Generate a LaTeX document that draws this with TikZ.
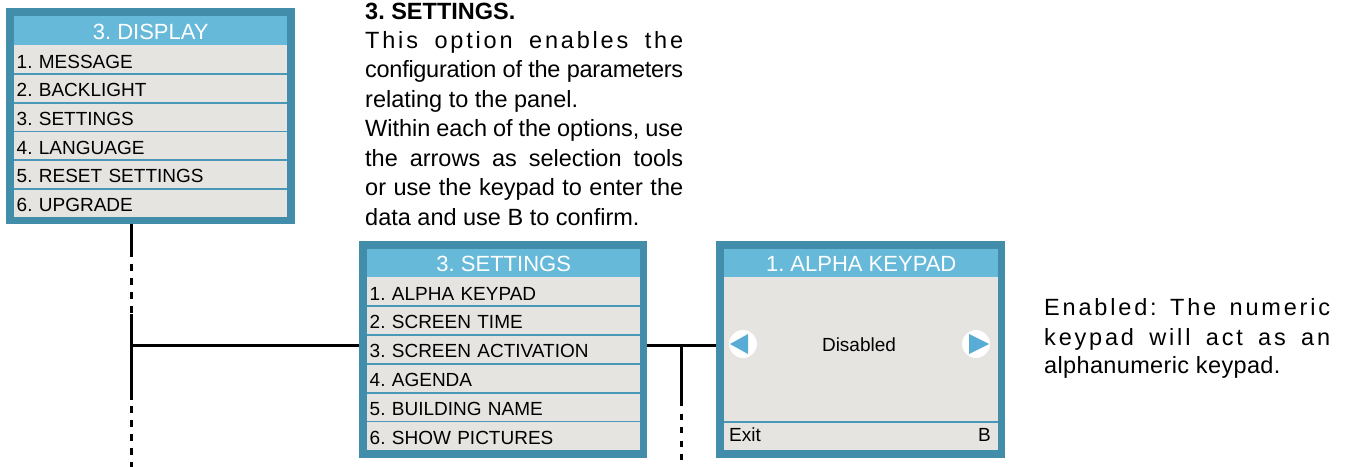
\documentclass[tikz,border=0pt]{standalone}
\usepackage{fontspec}
\setmainfont{Liberation Sans}
\newfontfamily\lsfont[LetterSpace=12]{Liberation Sans}
\newfontfamily\lsfontb[LetterSpace=1.5]{Liberation Sans}
\newfontfamily\lsneg[LetterSpace=-1.2]{Liberation Sans}
\definecolor{framec}{RGB}{65,141,170}
\definecolor{hdrc}{RGB}{102,185,217}
\definecolor{rowc}{RGB}{229,228,225}
\definecolor{sepc}{RGB}{74,152,184}
\definecolor{tric}{RGB}{88,172,213}
\tikzset{
  outerbox/.style={fill=framec, draw=none, inner sep=0pt, anchor=north west},
  hdrbox/.style={fill=hdrc, draw=none, inner sep=0pt, anchor=north west, text=white,
    font=\fontsize{22pt}{25pt}\selectfont, text height=17pt, text depth=0pt},
  rowbox/.style={fill=rowc, draw=none, inner xsep=2.5pt, inner ysep=0pt, anchor=north west,
    font=\fontsize{19pt}{22pt}\selectfont, text height=17pt, text depth=0pt, align=left},
  sepline/.style={draw=sepc, line width=1.6pt},
  conn/.style={draw=black, line width=3pt},
  dconn/.style={draw=black, line width=3pt, dash pattern=on 7pt off 7pt},
  dconnb/.style={draw=black, line width=3pt, dash pattern=on 6pt off 7.5pt},
  bodytxt/.style={inner sep=0pt, anchor=base west, font=\fontsize{23.5pt}{27pt}\selectfont},
  paneltxt/.style={inner sep=0pt, font=\fontsize{19pt}{22pt}\selectfont},
  btn/.style={circle, fill=white, minimum size=28pt, inner sep=0pt},
}
\begin{document}
\frenchspacing
\begin{tikzpicture}[x=1pt,y=-1pt]
\useasboundingbox (0,0) rectangle (1349,466);
% ---------- DISPLAY panel ----------
\node[outerbox, minimum width=289pt, minimum height=216pt] (disp) at (6,8) {};
\node[hdrbox, minimum width=273pt, minimum height=29pt] (dh) at (14,16) {3. DISPLAY};
\foreach \i/\t in {1/1. MESSAGE,2/2. BACKLIGHT,3/3. SETTINGS,4/4. LANGUAGE,5/5. RESET SETTINGS,6/6. UPGRADE}{
  \node[rowbox, minimum height=28.67pt, text width=268pt] (d\i) at (14,{45+(\i-1)*28.67}) {\t};
}
\foreach \i in {1,...,5}{ \draw[sepline] (d\i.south west) -- (d\i.south east); }
% ---------- SETTINGS panel ----------
\node[outerbox, minimum width=288pt, minimum height=217pt] (sett) at (359,241) {};
\node[hdrbox, minimum width=273pt, minimum height=28pt] (sh) at (367,249) {3. SETTINGS};
\foreach \i/\t in {1/1. ALPHA KEYPAD,2/2. SCREEN TIME,3/3. SCREEN ACTIVATION,4/4. AGENDA,5/5. BUILDING NAME,6/6. SHOW PICTURES}{
  \node[rowbox, minimum height=28.83pt, text width=268pt] (s\i) at (367,{277+(\i-1)*28.83}) {\t};
}
\foreach \i in {1,...,5}{ \draw[sepline] (s\i.south west) -- (s\i.south east); }
% ---------- ALPHA KEYPAD panel ----------
\node[outerbox, minimum width=289pt, minimum height=217pt] (alpha) at (716,241) {};
\node[hdrbox, minimum width=274pt, minimum height=28pt] (ah) at (724,249) {1. ALPHA KEYPAD};
\node[rowbox, minimum width=274pt, minimum height=145pt] (abody) at (724,277) {};
\node[rowbox, minimum width=274pt, minimum height=28pt] (afoot) at (724,422) {};
\draw[sepline, line width=2pt] (abody.south west) -- (abody.south east);
\node[paneltxt, anchor=base] (dis) at (859,351) {Disabled};
\node[paneltxt, anchor=base west] (exit) at (729,441) {Exit};
\node[paneltxt, anchor=base east] (bkey) at (991,441) {B};
\node[btn] (bl) at (743,344) {};
\node[btn] (br) at (976,344) {};
\fill[tric] ([xshift=-13pt]bl.center) -- ([xshift=5pt,yshift=10pt]bl.center) -- ([xshift=5pt,yshift=-10pt]bl.center) -- cycle;
\fill[tric] ([xshift=13pt]br.center) -- ([xshift=-7pt,yshift=10pt]br.center) -- ([xshift=-7pt,yshift=-10pt]br.center) -- cycle;
% ---------- connectors ----------
\coordinate (j1) at (131,345);
\coordinate (j2) at (681,345);
\coordinate (a1) at (131,257);
\coordinate (a2) at (131,264);
\coordinate (a3) at (131,314);
\coordinate (a4) at (131,400);
\coordinate (a5) at (131,406);
\coordinate (a6) at (131,470);
\coordinate (b1) at (681,400);
\coordinate (b2) at (681,470);
\draw[conn] (disp.south -| j1) -- (a1);
\draw[dconn] (a2) -- (a3);
\draw[conn] (a3) -- (a4);
\draw[dconn] (a5) -- (a6);
\draw[conn] (j1) -- (j1 -| sett.west);
\draw[conn] (j1 -| sett.east) -- (j1 -| alpha.west);
\draw[conn] (j2) -- (b1);
\draw[dconnb] (b1) -- (b2);
% ---------- texts ----------
\node[bodytxt] (t0) at (365,19) {\bfseries 3. SETTINGS.};
\node[bodytxt] (t1) at (365,48) {\lsfont\makebox[318pt][s]{This option enables the}};
\node[bodytxt] (t2) at (365,77.5) {\lsneg\makebox[318pt][s]{configuration of the parameters}};
\node[bodytxt] (t3) at (365,107) {relating to the panel.};
\node[bodytxt] (t4) at (365,136.5) {\makebox[318pt][s]{Within each of the options, use}};
\node[bodytxt] (t5) at (365,166) {\makebox[318pt][s]{the arrows as selection tools}};
\node[bodytxt] (t6) at (365,195.5) {\makebox[318pt][s]{or use the keypad to enter the}};
\node[bodytxt] (t7) at (365,225) {data and use B to confirm.};
\node[bodytxt] (r1) at (1044,315) {\lsfont\makebox[286pt][s]{Enabled: The numeric}};
\node[bodytxt] (r2) at (1044,345) {\lsfont\makebox[286pt][s]{keypad will act as an}};
\node[bodytxt] (r3) at (1044,373) {\lsfontb alphanumeric keypad.};
\end{tikzpicture}
\end{document}
